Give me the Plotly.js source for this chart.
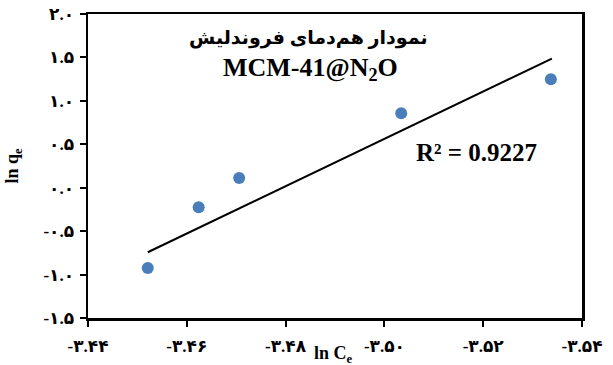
<!DOCTYPE html>
<html>
<head>
<meta charset="utf-8">
<script src="https://cdn.plot.ly/plotly-3.0.1.min.js"></script>
<style>
  html, body { margin: 0; padding: 0; background: #fff; }
  #chart { width: 613px; height: 365px; }
</style>
</head>
<body>
<div id="chart"></div>
<script>
// Freundlich isotherm: ln qe against ln Ce
const lnCe = [-3.4521, -3.4624, -3.4706, -3.5034, -3.5337];
const lnQe = [-0.924, -0.225, 0.113, 0.858, 1.25];

// Fitted trend line endpoints
const trendX = [-3.4521, -3.5339];
const trendY = [-0.743, 1.487];

// Axis ticks with Persian digits
const xTickVals = [-3.44, -3.46, -3.48, -3.50, -3.52, -3.54];
const xTickText = ['-۳.۴۴', '-۳.۴۶', '-۳.۴۸', '-۳.۵۰', '-۳.۵۲', '-۳.۵۴'];
const yTickVals = [-1.5, -1.0, -0.5, 0.0, 0.5, 1.0, 1.5, 2.0];
const yTickText = ['-۱.۵', '-۱.۰', '-۰.۵', '۰.۰', '۰.۵', '۱.۰', '۱.۵', '۲.۰'];

const chartTitle = 'نمودار هم‌دمای فروندلیش';
const sampleName = 'MCM-41@N<sub>2</sub>O';
const rSquared = 'R² = 0.9227';
const xTitle = 'ln C<sub>e</sub>';
const yTitle = 'ln q<sub>e</sub>';

const FONT = 'Liberation Serif, Times New Roman, DejaVu Sans, serif';

const traces = [
  {
    x: lnCe, y: lnQe, type: 'scatter', mode: 'markers',
    marker: { color: '#4A7EBB', size: 12 },
    hoverinfo: 'x+y'
  },
  {
    x: trendX, y: trendY, type: 'scatter', mode: 'lines',
    line: { color: '#000', width: 2 },
    hoverinfo: 'skip'
  }
];

const axisCommon = {
  showline: true, linecolor: '#000', linewidth: 2.5, mirror: true,
  ticks: 'outside', ticklen: 6, tickwidth: 2, tickcolor: '#000',
  showgrid: false, zeroline: false,
  tickfont: { family: FONT, size: 17, color: '#000', weight: 'bold' }
};

const layout = {
  width: 613, height: 365,
  margin: { l: 88, r: 31, t: 14, b: 47 },
  paper_bgcolor: '#fff', plot_bgcolor: '#fff',
  showlegend: false,
  font: { family: FONT, color: '#000' },
  title: {
    text: '<b>' + chartTitle + '</b>',
    font: { family: FONT, size: 19, color: '#000' },
    x: 0.503, xanchor: 'center', y: 0.915, yanchor: 'top'
  },
  xaxis: Object.assign({}, axisCommon, {
    range: [-3.44, -3.54], autorange: false,
    tickvals: xTickVals, ticktext: xTickText,
    ticklabelstandoff: 5
  }),
  yaxis: Object.assign({}, axisCommon, {
    range: [-1.5, 2.0], autorange: false,
    tickvals: yTickVals, ticktext: yTickText,
    ticklabelstandoff: 2,
    title: { text: '<b>' + yTitle + '</b>', font: { family: FONT, size: 18, color: '#000' }, standoff: 20 }
  }),
  annotations: [
    {
      // x-axis title sits in the tick-label row, between -3.48 and -3.50
      text: '<b>' + xTitle + '</b>', xref: 'paper', yref: 'paper',
      x: 0.496, y: -0.12, xanchor: 'center', yanchor: 'middle', showarrow: false,
      font: { family: FONT, size: 18, color: '#000' }
    },
    {
      text: '<b>' + sampleName + '</b>', xref: 'paper', yref: 'paper',
      x: 0.451, y: 0.82, xanchor: 'center', yanchor: 'middle', showarrow: false,
      font: { family: FONT, size: 26, color: '#000' }
    },
    {
      text: '<b>' + rSquared + '</b>', xref: 'paper', yref: 'paper',
      x: 0.787, y: 0.543, xanchor: 'center', yanchor: 'middle', showarrow: false,
      font: { family: FONT, size: 25, color: '#000' }
    }
  ]
};

Plotly.newPlot('chart', traces, layout, { displayModeBar: false, staticPlot: true });
</script>
</body>
</html>
